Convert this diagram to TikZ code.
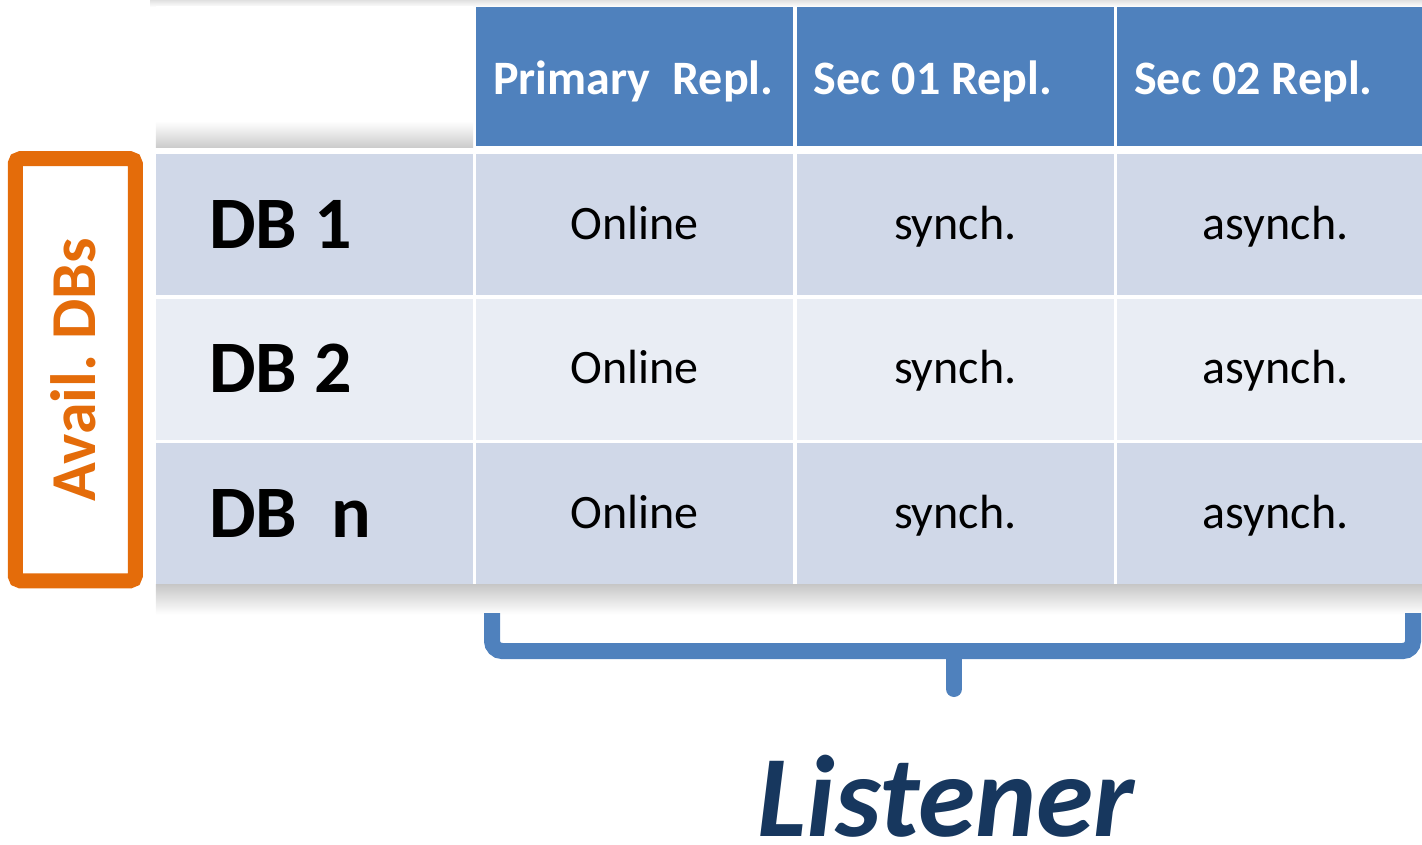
\documentclass[tikz,border=0pt]{standalone}
\usepackage{fontspec}
\setmainfont{Carlito}
\usetikzlibrary{positioning}

\definecolor{hdrblue}{HTML}{4F81BD}
\definecolor{rowdark}{HTML}{D0D8E8}
\definecolor{rowlight}{HTML}{E9EDF4}
\definecolor{availorange}{HTML}{E46C0A}
\definecolor{listenblue}{HTML}{17375E}

% narrow word space, as in the slide
\newcommand\wsp{\hspace{0.23em}}

\tikzset{
    cell/.style     = {inner sep=0pt, minimum width=317pt, minimum height=141pt, text depth=0pt},
    hdr/.style      = {cell, fill=hdrblue, text=white, minimum height=139pt,
                       font=\fontsize{48}{58}\selectfont\bfseries,
                       text width=283pt, inner xsep=17pt, align=left, text height=37pt},
    dbname/.style   = {cell, font=\fontsize{74}{88}\selectfont\bfseries,
                       text width=211pt, inner xsep=53pt, align=left, text height=47pt},
    val/.style      = {cell, font=\fontsize{48}{58}\selectfont, text height=29pt},
    rowa/.style     = {fill=rowdark},
    rowb/.style     = {fill=rowlight},
    availbox/.style = {draw=availorange, line width=15pt, rounded corners=5pt, fill=white,
                       text=availorange, font=\fontsize{64}{76}\selectfont\bfseries,
                       text height=41pt, text depth=0pt, inner sep=0pt},
    brace/.style    = {draw=hdrblue, line width=16pt, rounded corners=10pt}
}

\begin{document}
\begin{tikzpicture}[x=1pt, y=-1pt]
    \useasboundingbox (0,0) rectangle (1422,845);

    % faint shadow along the top edge
    \shade[top color=black!12, bottom color=white] (150,0) rectangle (1422,7);

    % header row
    \node   [cell, fill=white]  (c0)    at (314.5,76.5)   {};
    \node   [hdr, right=3pt of c0]  (h1)    {\mbox{Primary\wsp\wsp Repl.}};
    \node   [hdr, right=3pt of h1]  (h2)    {Sec\wsp 01\wsp Repl.};
    \node   [hdr, right=3pt of h2]  (h3)    {Sec\wsp 02\wsp Repl.};
    \shade[top color=white, bottom color=black!20]
        ([yshift=26pt]c0.south west) rectangle (c0.south east);

    % database rows
    \node   [dbname, rowa, below=7pt of c0] (d1)    {DB\wsp 1};
    \node   [dbname, rowb, below=3pt of d1] (d2)    {DB\wsp 2};
    \node   [dbname, rowa, below=3pt of d2] (d3)    {DB\wsp\wsp n};

    \node   [val, rowa, right=3pt of d1]    (d1a)   {Online};
    \node   [val, rowa, right=3pt of d1a]   (d1b)   {synch.};
    \node   [val, rowa, right=3pt of d1b]   (d1c)   {asynch.};
    \node   [val, rowb, right=3pt of d2]    (d2a)   {Online};
    \node   [val, rowb, right=3pt of d2a]   (d2b)   {synch.};
    \node   [val, rowb, right=3pt of d2b]   (d2c)   {asynch.};
    \node   [val, rowa, right=3pt of d3]    (d3a)   {Online};
    \node   [val, rowa, right=3pt of d3a]   (d3b)   {synch.};
    \node   [val, rowa, right=3pt of d3b]   (d3c)   {asynch.};

    % shadow under the table
    \shade[top color=black!22, bottom color=white]
        (d3.south west) rectangle ([yshift=-30pt]d3c.south east);

    % available databases
    \node   [availbox, rotate=90, minimum width=422pt, minimum height=120pt]
            (avail) at (75.25,369.75)   {Avail.\wsp DBs};

    % listener brace
    \coordinate (bl) at (492,613);
    \coordinate (br) at (1413,613);
    \coordinate (bm) at (954,651);
    \coordinate (bt) at (954,689);
    \draw[brace]    (bl) |- (bm) -| (br);
    \draw[brace, line cap=round]    (bm) -- (bt);

    \node   [text=listenblue, font=\fontsize{116}{130}\selectfont\bfseries\itshape,
             anchor=base, inner sep=0pt]  (lst)   at (946,836)  {Listener};
\end{tikzpicture}
\end{document}
